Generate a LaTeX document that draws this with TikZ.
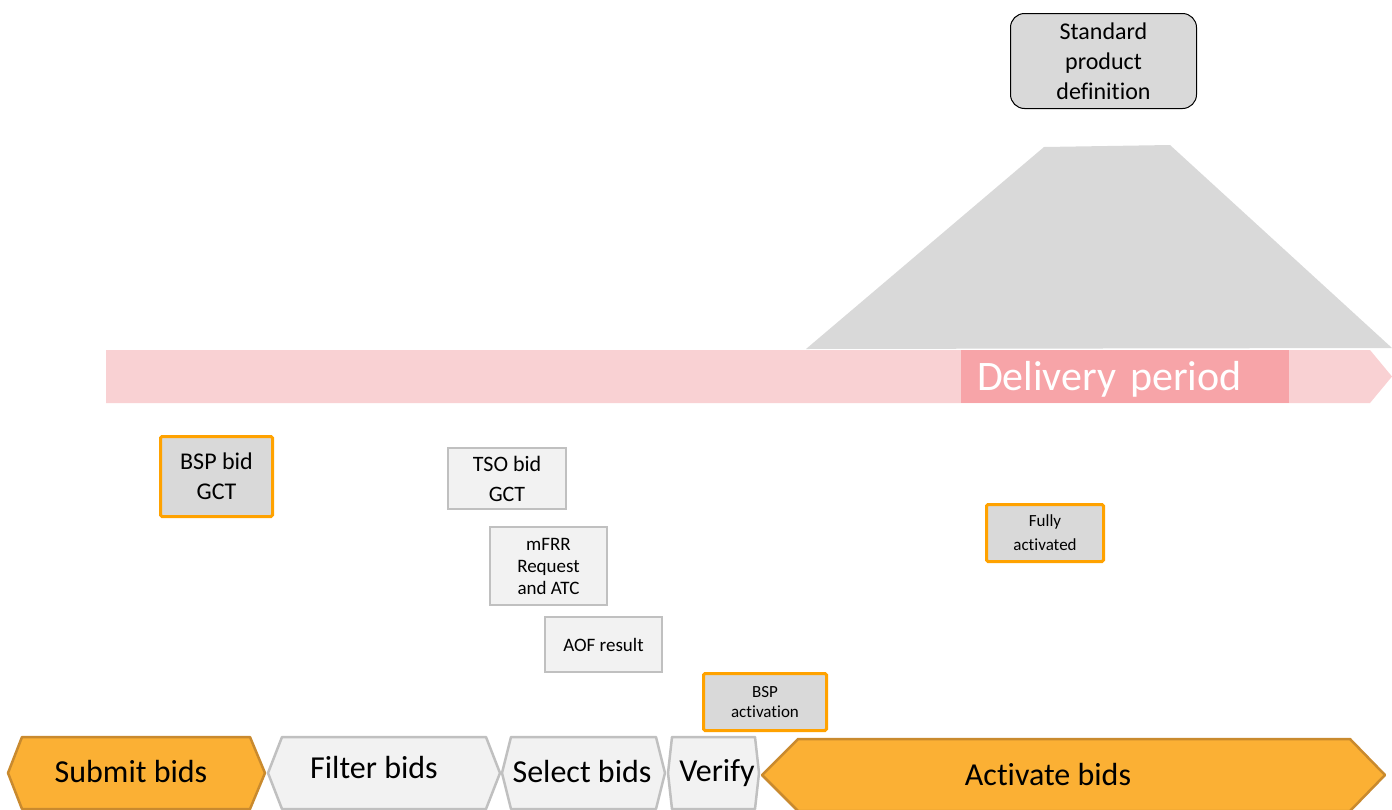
\documentclass[tikz,border=0pt]{standalone}
\usepackage{fontspec}
\setmainfont{Carlito}[Ligatures=NoCommon]

\definecolor{bidorange}{HTML}{FBB034}
\definecolor{bidedge}{HTML}{C98A2E}
\definecolor{stepfill}{HTML}{F2F2F2}
\definecolor{stepedge}{HTML}{C0C0C0}
\definecolor{markorange}{HTML}{FFA200}
\definecolor{boxgray}{HTML}{D9D9D9}
\definecolor{bandpink}{HTML}{F9D1D3}
\definecolor{darkpink}{HTML}{F7A4A8}

\begin{document}
\begin{tikzpicture}[x=1pt, y=-1pt,
    chevorange/.style={fill=bidorange, draw=bidedge, line width=2.5pt, line join=round},
    chevgray/.style={fill=stepfill, draw=stepedge, line width=2.5pt, line join=round},
    chevtext/.style={anchor=base, font=\fontsize{32}{38}\selectfont},
    orangebox/.style={fill=boxgray, draw=markorange, line width=3pt, rounded corners=1.5pt, align=center, inner sep=0pt},
    graybox/.style={fill=stepfill, draw=stepedge, line width=1.5pt, align=center, inner sep=0pt}]
    \useasboundingbox (0,0) rectangle (1392,809);

    % product shape and delivery band
    \fill[boxgray] (806,349) -- (1044,147) -- (1170,145) -- (1392,348) -- cycle;
    \fill[bandpink] (106,350) -- (1370,350) -- (1392,376.5) -- (1370,403) -- (106,403) -- cycle;
    \node[fill=darkpink, text=white, minimum height=53pt, text width=296pt, inner xsep=16pt, inner ysep=0pt,
        text height=30pt, text depth=2pt, align=left, font=\fontsize{42}{48}\selectfont] (delivery) at (1125,376.5) {Delivery period};

    \node[fill=boxgray, draw=black, line width=1pt, rounded corners=14pt, minimum width=186pt, minimum height=95pt,
        align=center, inner sep=0pt, font=\fontsize{24}{30}\selectfont] (product) at (1103.5,61) {Standard\\product\\definition};

    % milestones
    \node[orangebox, minimum width=112pt, minimum height=80pt, font=\fontsize{24}{30}\selectfont] (bspgct) at (216.5,476.5) {BSP bid\\GCT};
    \node[graybox, minimum width=118pt, minimum height=61pt, font=\fontsize{22}{30}\selectfont] (tsogct) at (507,478.5) {TSO bid\\GCT};
    \node[graybox, minimum width=117pt, minimum height=78pt, font=\fontsize{19}{22}\selectfont] (mfrr) at (548.5,566) {mFRR\\Request\\and ATC};
    \node[graybox, minimum width=117pt, minimum height=55pt, font=\fontsize{19}{22}\selectfont] (aof) at (603.5,644.5) {AOF result};
    \node[orangebox, minimum width=123pt, minimum height=57pt, font=\fontsize{17}{20}\selectfont] (bspact) at (765,702) {BSP\\activation};
    \node[orangebox, minimum width=117pt, minimum height=57pt, font=\fontsize{17}{24}\selectfont] (fully) at (1045,533) {Fully\\activated};

    % process steps
    \filldraw[chevorange] (8,773) -- (22,737) -- (250,737) -- (265,773) -- (250,809) -- (22,809) -- cycle;
    \filldraw[chevgray] (268,773) -- (282,737) -- (486,737) -- (500,773) -- (486,809) -- (282,809) -- cycle;
    \filldraw[chevgray] (502,773) -- (511,737) -- (656,737) -- (665,773) -- (656,809) -- (511,809) -- cycle;
    \filldraw[chevgray] (668,773) -- (672,737) -- (755,737) -- (759,773) -- (755,809) -- (672,809) -- cycle;
    \filldraw[chevorange] (762,775) -- (798,739) -- (1350,739) -- (1385,775) -- (1350,811) -- (798,811) -- cycle;

    \node[chevtext] (submit) at (131,782) {Submit bids};
    \node[chevtext] (filter) at (374,778) {Filter bids};
    \node[chevtext] (select) at (582,782) {Select bids};
    \node[chevtext] (verify) at (717,781) {Verify};
    \node[chevtext] (activate) at (1048,785) {Activate bids};
\end{tikzpicture}
\end{document}
